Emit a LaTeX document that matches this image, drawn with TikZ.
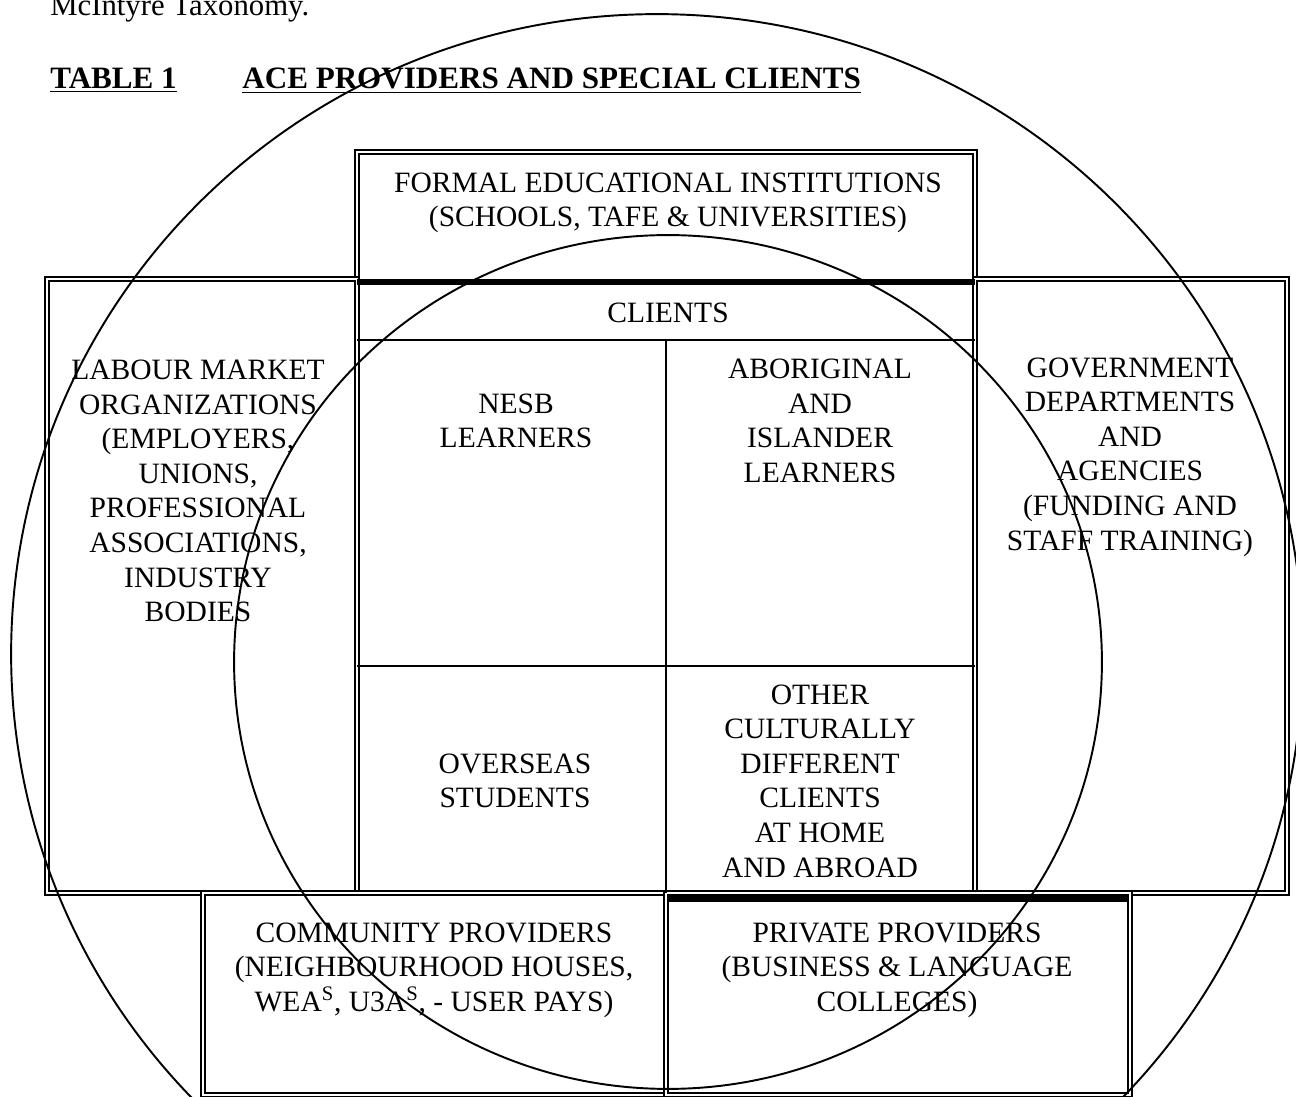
\documentclass[tikz,border=0pt]{standalone}
\usepackage{fontspec}
\setmainfont{Liberation Serif}
\begin{document}
\begin{tikzpicture}
    [x=0.02cm, y=-0.02cm,
     frame/.style={draw, double, line width=0.8pt, double distance=1.4pt},
     cell/.style={align=center, inner sep=0pt, font=\fontsize{16.8}{19.7}\selectfont},
     heading/.style={inner sep=0pt, anchor=base west, font=\fontsize{17.7}{21}\selectfont\bfseries},
     ring/.style={draw, line width=1.1pt}]
    \useasboundingbox (0,0) rectangle (1296,1097);
    \clip (0,0) rectangle (1296,1097);
    % Define headings
    \node[inner sep=0pt, anchor=base west, font=\fontsize{17.5}{21}\selectfont] (intro) at (50,16) {McIntyre Taxonomy.};
    \node[heading] (table) at (50,89) {\underline{TABLE 1}};
    \node[heading] (title) at (242,89) {\underline{ACE PROVIDERS AND SPECIAL CLIENTS}};
    % Define boxes
    \draw[frame] (357,152) rectangle (975,893);
    \draw[frame] (47,279) rectangle (357,893);
    \draw[frame] (975,279) rectangle (1287,893);
    \draw[frame] (203,893) rectangle (666,1095);
    \draw[frame] (666,893) rectangle (1130,1095);
    \draw[line width=3.6pt] (357,282) -- (975,282);
    \draw[line width=1.7pt] (357,340) -- (975,340);
    \draw[line width=0.7pt] (666,340) -- (666,893);
    \draw[line width=0.7pt] (357,666) -- (975,666);
    \draw[line width=4.5pt] (668,898) -- (1128,898);
    % Define labels
    \node[cell] (formal) at (668,203) {FORMAL EDUCATIONAL INSTITUTIONS\\(SCHOOLS, TAFE \& UNIVERSITIES)};
    \node[cell] (clients) at (668,313) {CLIENTS};
    \node[cell] (nesb) at (516,421) {NESB\\LEARNERS};
    \node[cell] (aboriginal) at (820,421) {ABORIGINAL\\AND\\ISLANDER\\LEARNERS};
    \node[cell] (labour) at (198,491) {LABOUR MARKET\\ORGANIZATIONS\\(EMPLOYERS,\\UNIONS,\\PROFESSIONAL\\ASSOCIATIONS,\\INDUSTRY\\BODIES};
    \node[cell] (government) at (1130,457) {GOVERNMENT\\DEPARTMENTS\\AND\\AGENCIES\\(FUNDING AND\\STAFF TRAINING)};
    \node[cell] (overseas) at (515,781) {OVERSEAS\\STUDENTS};
    \node[cell] (other) at (820,781) {OTHER\\CULTURALLY\\DIFFERENT\\CLIENTS\\AT HOME\\AND ABROAD};
    \node[cell] (community) at (434,970) {COMMUNITY PROVIDERS\\(NEIGHBOURHOOD HOUSES,\\WEA\textsuperscript{S}, U3A\textsuperscript{S}, - USER PAYS)};
    \node[cell] (private) at (897,970) {PRIVATE PROVIDERS\\(BUSINESS \& LANGUAGE\\COLLEGES)};
    % Define circles
    \draw[ring] (657,654) ellipse [x radius=12.92cm, y radius=12.8cm];
    \draw[ring] (668,662) ellipse [x radius=8.68cm, y radius=8.54cm];
\end{tikzpicture}
\end{document}
